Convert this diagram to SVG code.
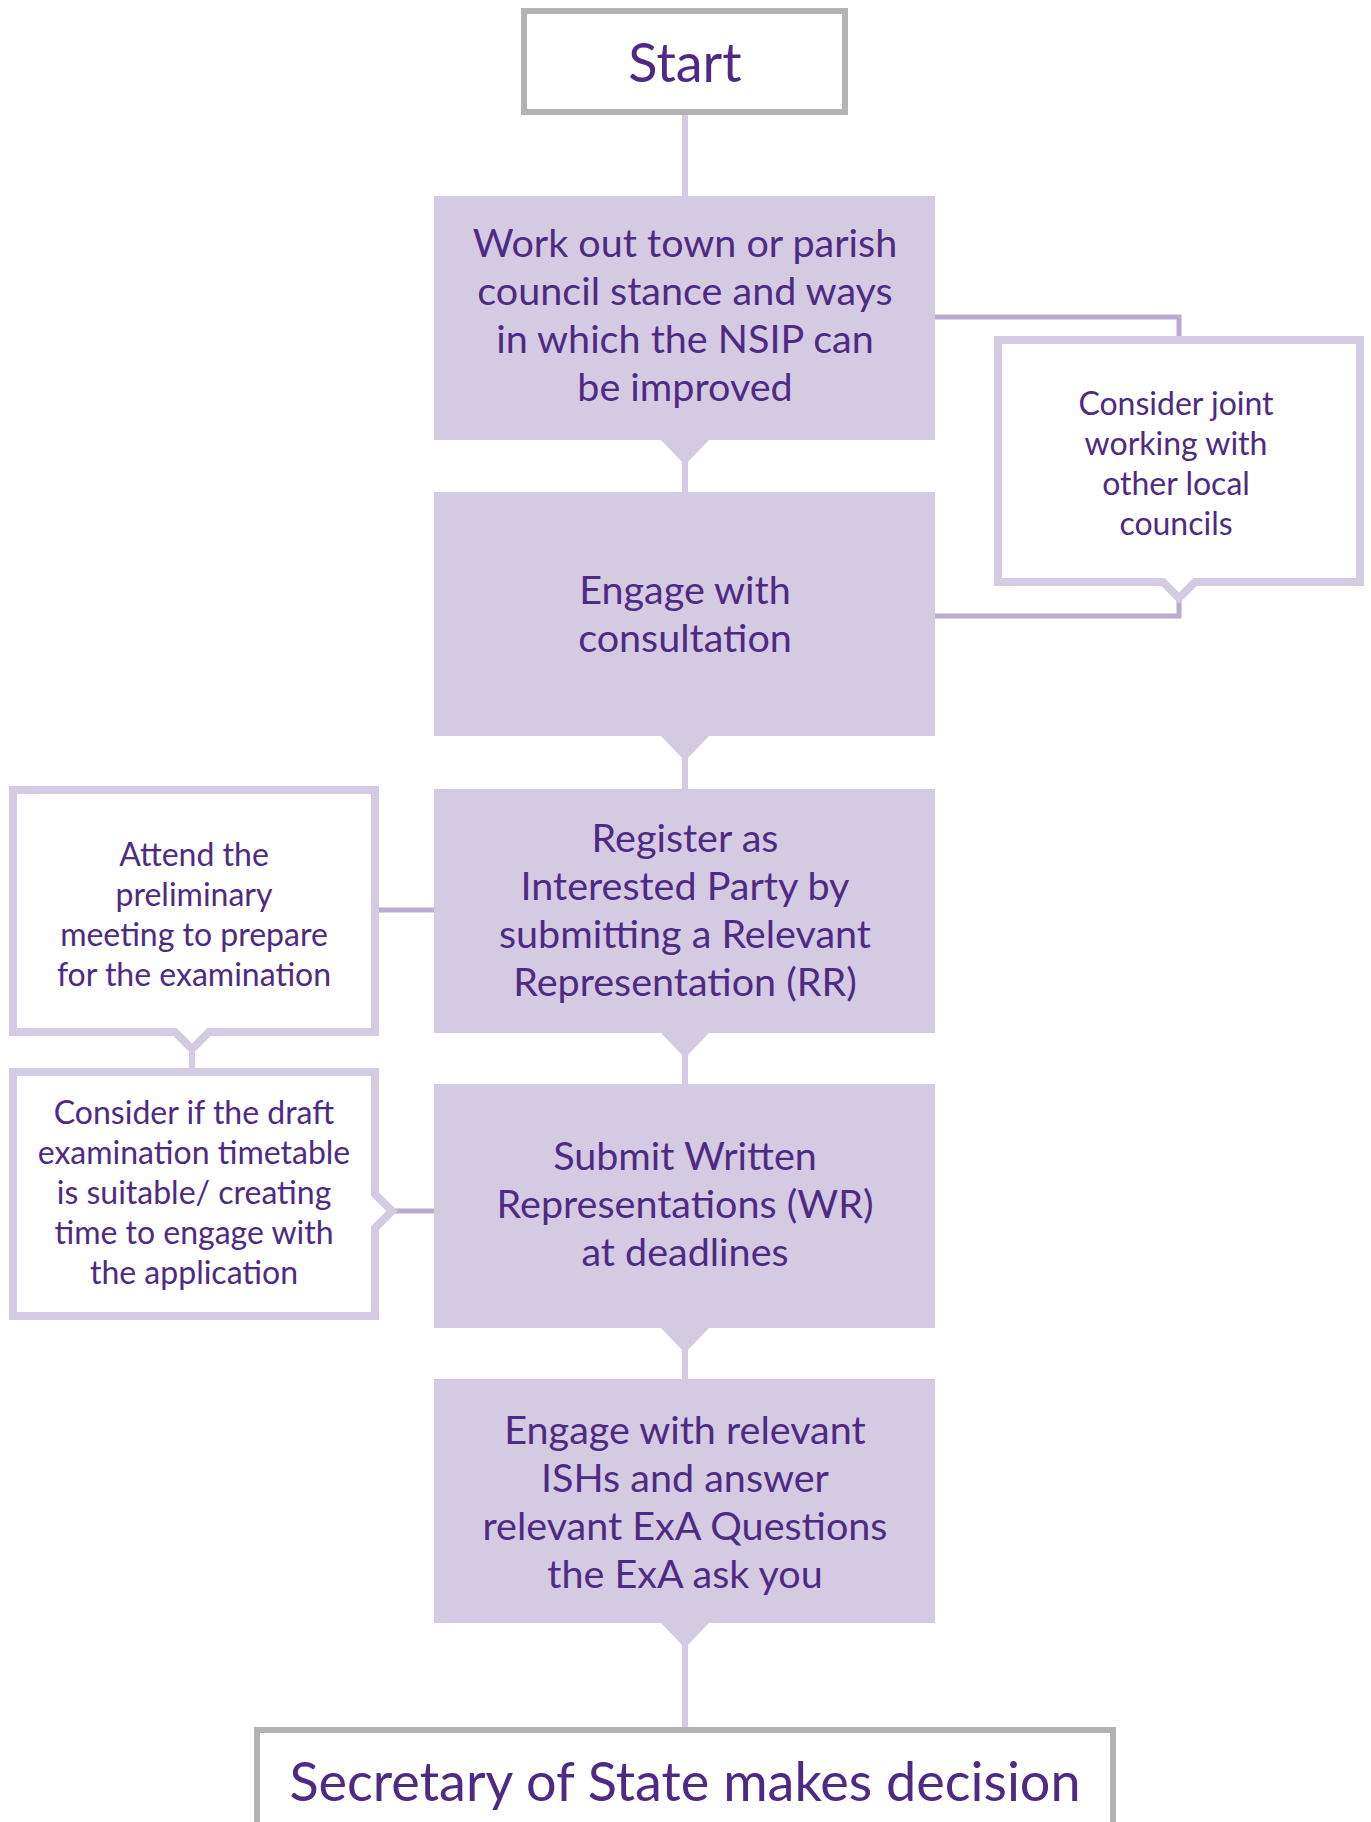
<svg xmlns="http://www.w3.org/2000/svg" width="1371" height="1822" viewBox="0 0 1371 1822">
<style>
.t{font-family:Lato,"Open Sans","Liberation Sans",sans-serif;fill:#4e2a84;text-anchor:middle}
.big{font-size:54px}
.mid{font-size:39.5px}
.sm{font-size:32px}
.box{fill:#d4cbe3}
.term{fill:#fff;stroke:#b3b3b3;stroke-width:6}
.call{fill:#fff;stroke:#d4cbe3;stroke-width:8;stroke-linejoin:miter}
.vl{stroke:#d4cbe3;stroke-width:6;fill:none}
.sl{stroke:#bcaad3;stroke-width:5;fill:none}
</style>
<rect width="1371" height="1822" fill="#fff"/>
<g id="connectors">
<line class="vl" x1="685" y1="112" x2="685" y2="198"/>
<line class="vl" x1="685" y1="450" x2="685" y2="494"/>
<line class="vl" x1="685" y1="746" x2="685" y2="791"/>
<line class="vl" x1="685" y1="1043" x2="685" y2="1086"/>
<line class="vl" x1="685" y1="1338" x2="685" y2="1381"/>
<line class="vl" x1="685" y1="1633" x2="685" y2="1729"/>
<path class="box" d="M660 439 L710 439 L685 465 Z"/>
<path class="box" d="M660 735 L710 735 L685 761 Z"/>
<path class="box" d="M660 1032 L710 1032 L685 1058 Z"/>
<path class="box" d="M660 1327 L710 1327 L685 1353 Z"/>
<path class="box" d="M660 1622 L710 1622 L685 1648 Z"/>
<path class="sl" d="M934 317 H1179 V340"/>
<path class="sl" d="M1179 598 V616 H934"/>
<line class="sl" x1="377" y1="910" x2="436" y2="910"/>
<line class="sl" x1="395" y1="1211" x2="436" y2="1211"/>
<line class="vl" x1="192" y1="1050" x2="192" y2="1072"/>
</g>
<g id="start">
<rect class="term" x="524" y="11" width="321" height="101"/>
<text class="t big" x="685" y="82">Start</text>
</g>
<g id="box1">
<rect class="box" x="434" y="196" width="501" height="244"/>
<text class="t mid" x="685" y="257">Work out town or parish</text>
<text class="t mid" x="685" y="305">council stance and ways</text>
<text class="t mid" x="685" y="353">in which the NSIP can</text>
<text class="t mid" x="685" y="401">be improved</text>
</g>
<g id="box2">
<rect class="box" x="434" y="492" width="501" height="244"/>
<text class="t mid" x="685" y="604">Engage with</text>
<text class="t mid" x="685" y="652">consultation</text>
</g>
<g id="box3">
<rect class="box" x="434" y="789" width="501" height="244"/>
<text class="t mid" x="685" y="852">Register as</text>
<text class="t mid" x="685" y="900">Interested Party by</text>
<text class="t mid" x="685" y="948">submitting a Relevant</text>
<text class="t mid" x="685" y="996">Representation (RR)</text>
</g>
<g id="box4">
<rect class="box" x="434" y="1084" width="501" height="244"/>
<text class="t mid" x="685" y="1170">Submit Written</text>
<text class="t mid" x="685" y="1218">Representations (WR)</text>
<text class="t mid" x="685" y="1266">at deadlines</text>
</g>
<g id="box5">
<rect class="box" x="434" y="1379" width="501" height="244"/>
<text class="t mid" x="685" y="1444">Engage with relevant</text>
<text class="t mid" x="685" y="1492">ISHs and answer</text>
<text class="t mid" x="685" y="1540">relevant ExA Questions</text>
<text class="t mid" x="685" y="1588">the ExA ask you</text>
</g>
<g id="callout-joint">
<path class="call" d="M998 340 H1360 V582 H1195 L1179 598 L1163 582 H998 Z"/>
<text class="t sm" x="1176" y="415">Consider joint</text>
<text class="t sm" x="1176" y="455">working with</text>
<text class="t sm" x="1176" y="495">other local</text>
<text class="t sm" x="1176" y="535">councils</text>
</g>
<g id="callout-prelim">
<path class="call" d="M13 790 H375 V1032 H209 L192 1049 L175 1032 H13 Z"/>
<text class="t sm" x="194" y="866">Attend the</text>
<text class="t sm" x="194" y="906">preliminary</text>
<text class="t sm" x="194" y="946">meeting to prepare</text>
<text class="t sm" x="194" y="986">for the examination</text>
</g>
<g id="callout-timetable">
<path class="call" d="M13 1072 H375 V1194 L392 1211 L375 1228 V1316 H13 Z"/>
<text class="t sm" x="194" y="1124">Consider if the draft</text>
<text class="t sm" x="194" y="1164">examination timetable</text>
<text class="t sm" x="194" y="1204">is suitable/ creating</text>
<text class="t sm" x="194" y="1244">time to engage with</text>
<text class="t sm" x="194" y="1284">the application</text>
</g>
<g id="decision">
<rect class="term" x="257" y="1730" width="856" height="130"/>
<text class="t big" x="685" y="1801">Secretary of State makes decision</text>
</g>
</svg>
